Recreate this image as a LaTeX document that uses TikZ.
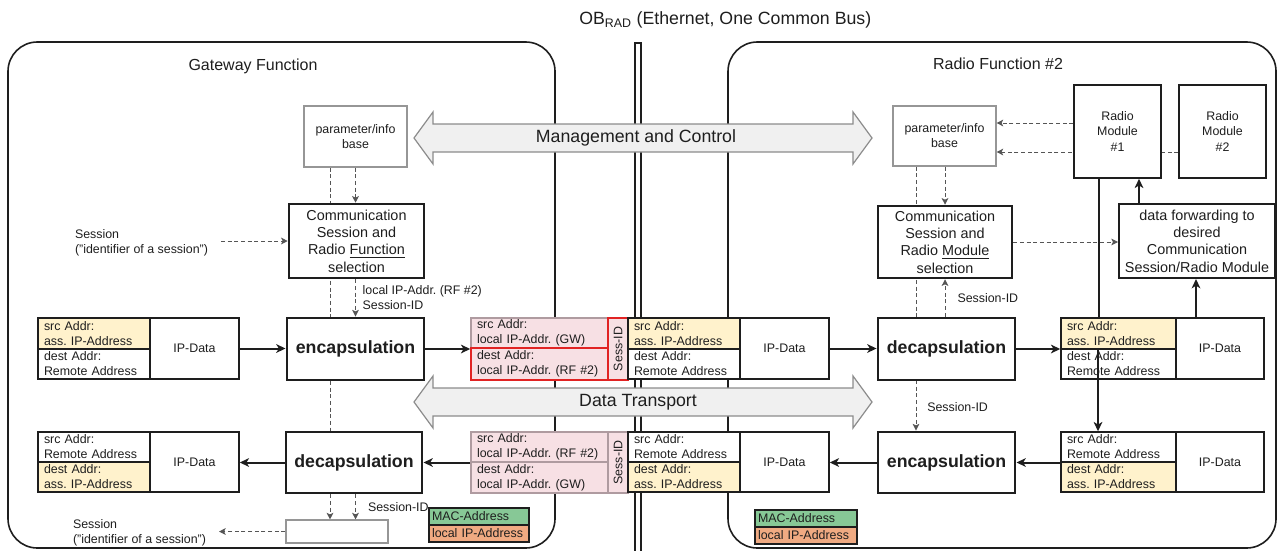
\documentclass[tikz,border=0pt]{standalone}
\usepackage{fontspec}
\usepackage{graphicx}
\setmainfont{Liberation Sans}
\usetikzlibrary{arrows.meta,backgrounds}
\frenchspacing

\definecolor{ink}{RGB}{30,30,30}
\definecolor{addrY}{RGB}{255,242,204}
\definecolor{tunP}{RGB}{247,224,228}
\definecolor{tunEdge}{RGB}{175,155,160}
\definecolor{tunRed}{RGB}{225,35,35}
\definecolor{macG}{RGB}{135,200,150}
\definecolor{ipO}{RGB}{240,170,130}
\definecolor{pipeFill}{RGB}{240,240,240}
\definecolor{pipeEdge}{RGB}{140,140,140}
\definecolor{dashC}{RGB}{85,85,85}
\definecolor{thinC}{RGB}{150,150,150}

\newcommand\fs[2]{\fontsize{#1}{#2}\selectfont}

% box given by its corners (x1,y1) (x2,y2), text centred
\newcommand\boxat[7]{%
  \pgfmathsetmacro\bxw{(#4-#2)*0.75}%
  \pgfmathsetmacro\bxh{(#5-#3)*0.75}%
  \node[#6, minimum width=\bxw pt, minimum height=\bxh pt] (#1) at ({(#2+#4)/2},{(#3+#5)/2}) {#7};}
% box given by its corners, text left aligned with padding [#1]
\newcommand\cellat[8][6]{%
  \pgfmathsetmacro\bxw{(#5-#3)*0.75}%
  \pgfmathsetmacro\bxh{(#6-#4)*0.75}%
  \pgfmathsetmacro\bxt{(#5-#3-2*#1)*0.75}%
  \node[#7, align=left, text width=\bxt pt, minimum width=\bxw pt, minimum height=\bxh pt] (#2) at ({(#3+#5)/2},{(#4+#6)/2}) {#8};}

\tikzset{
  every node/.style={inner sep=0pt, text=ink},
  frame/.style={draw=ink, line width=1.2pt, rounded corners=22pt},
  info/.style={draw=thinC, line width=0.8pt, fill=white, font=\fs{9.3}{11.3}, align=center},
  selbox/.style={draw=ink, line width=1.9pt, fill=white, font=\fs{10.8}{13}, align=center},
  procbox/.style={draw=ink, line width=2.2pt, fill=white, font=\fs{13.3}{16}\bfseries},
  cellbox/.style={draw=ink, line width=1.1pt, fill=white, font=\fs{9.3}{11.3}},
  ycell/.style={cellbox, fill=addrY},
  pcell/.style={draw=tunEdge, line width=1.1pt, fill=tunP, font=\fs{9.3}{11.3}},
  rcell/.style={pcell, draw=tunRed},
  modbox/.style={draw=ink, line width=1.1pt, fill=white, font=\fs{9.3}{11.3}, align=center},
  fwdbox/.style={draw=ink, line width=1.5pt, fill=white, font=\fs{10.8}{13}, align=center},
  legG/.style={draw=ink, line width=1.1pt, fill=macG, font=\fs{9.3}{11.3}},
  legO/.style={legG, fill=ipO},
  lbl/.style={font=\fs{9.3}{11.3}, align=left},
  flow/.style={draw=ink, line width=1.5pt, -{Stealth[length=7pt,width=6.5pt,inset=2pt]}},
  link/.style={draw=ink, line width=1.5pt},
  ctrl/.style={draw=dashC, line width=0.75pt, dash pattern=on 3pt off 2pt, -{Stealth[length=5pt,width=5pt,inset=1.2pt]}},
  pipe/.style={draw=pipeEdge, fill=pipeFill, line width=0.9pt},
}

\begin{document}
\begin{tikzpicture}[x=0.75pt, y=-0.75pt]
\useasboundingbox (0,0) rectangle (1277,550);

% function frames and the common bus
\boxat{gwFrame}{8}{42}{555}{548}{frame}{}
\boxat{rfFrame}{728}{42}{1276}{548}{frame}{}
\boxat{bus}{635}{43}{641}{580}{draw=ink, line width=1.1pt}{}

\node[font=\fs{13.3}{16}, anchor=west] (busTitle) at (579,20) {OB\textsubscript{RAD} (Ethernet, One Common Bus)};
\node[font=\fs{12}{14}] (gwTitle) at (253,66) {Gateway Function};
\node[font=\fs{12}{14}] (rfTitle) at (998,64) {Radio Function \#2};

% bus channels
\draw[pipe] (414,138) -- (433,112) -- (433,124) -- (853,124) -- (853,112) -- (872,138)
  -- (853,164) -- (853,152) -- (433,152) -- (433,164) -- cycle;
\node[font=\fs{13.3}{16}] (mgmt) at (636,138) {Management and Control};
\draw[pipe] (414,402) -- (433,376) -- (433,388) -- (853,388) -- (853,376) -- (872,402)
  -- (853,428) -- (853,416) -- (433,416) -- (433,428) -- cycle;
\node[font=\fs{13.3}{16}] (transp) at (638,402) {Data Transport};

% ---------------- gateway function ----------------
\boxat{gwParam}{304}{106}{407}{167}{info}{parameter/info\\base}
\boxat{gwSel}{289}{204}{424}{278}{selbox}{Communication\\Session and\\Radio \underline{Function}\\selection}
\boxat{gwEnc}{287}{318}{424}{380}{procbox}{encapsulation}
\boxat{gwDec}{286}{432}{422}{493}{procbox}{decapsulation}
\boxat{gwSess}{286}{520}{388}{543}{info}{}

\cellat{gwTopSrc}{38}{318}{150}{349}{ycell}{src Addr:\\ass. IP-Address}
\cellat{gwTopDst}{38}{349}{150}{379}{cellbox}{dest Addr:\\Remote Address}
\boxat{gwTopData}{150}{318}{239}{379}{cellbox}{IP-Data}
\cellat{gwBotSrc}{38}{432}{150}{462}{cellbox}{src Addr:\\Remote Address}
\cellat{gwBotDst}{38}{462}{150}{492}{ycell}{dest Addr:\\ass. IP-Address}
\boxat{gwBotData}{150}{432}{239}{492}{cellbox}{IP-Data}

\node[lbl, anchor=west, outer xsep=9.75pt] (sessIn) at (62,242.5) {Session\\("identifier of a session")};
\node[lbl, anchor=west, outer xsep=9.75pt] (sessOut) at (60,532.5) {Session\\("identifier of a session")};

\cellat[3]{gwMac}{429}{508}{529}{525}{legG}{MAC-Address}
\cellat[3]{gwLip}{429}{525}{529}{542}{legO}{local IP-Address}

% ---------------- tunnel frames on the bus ----------------
\cellat{tTopSrc}{471}{318}{608}{348}{pcell}{src Addr:\\local IP-Addr. (GW)}
\cellat{tTopDst}{471}{348}{608}{380}{rcell}{dest Addr:\\local IP-Addr. (RF \#2)}
\boxat{tTopSess}{608}{318}{628}{380}{rcell}{\rotatebox{90}{Sess-ID}}
\cellat{rTopSrc}{628}{318}{740}{349}{ycell}{src Addr:\\ass. IP-Address}
\cellat{rTopDst}{628}{349}{740}{379}{cellbox}{dest Addr:\\Remote Address}
\boxat{rTopData}{740}{318}{829}{379}{cellbox}{IP-Data}

\cellat{tBotSrc}{471}{432}{608}{462}{pcell}{src Addr:\\local IP-Addr. (RF \#2)}
\cellat{tBotDst}{471}{462}{608}{493}{pcell}{dest Addr:\\local IP-Addr. (GW)}
\boxat{tBotSess}{608}{432}{628}{493}{pcell}{\rotatebox{90}{Sess-ID}}
\cellat{rBotSrc}{628}{432}{740}{462}{cellbox}{src Addr:\\Remote Address}
\cellat{rBotDst}{628}{462}{740}{492}{ycell}{dest Addr:\\ass. IP-Address}
\boxat{rBotData}{740}{432}{829}{492}{cellbox}{IP-Data}

% ---------------- radio function ----------------
\boxat{rfParam}{893}{106}{996}{166}{info}{parameter/info\\base}
\boxat{rfSel}{878}{206}{1012}{278}{selbox}{Communication\\Session and\\Radio \underline{Module}\\selection}
\boxat{rfDec}{878}{318}{1015}{380}{procbox}{decapsulation}
\boxat{rfEnc}{878}{432}{1015}{493}{procbox}{encapsulation}
\boxat{rm1}{1074}{85}{1161}{178}{modbox}{Radio\\Module\\\#1}
\boxat{rm2}{1179}{85}{1266}{178}{modbox}{Radio\\Module\\\#2}
\boxat{fwd}{1119}{204}{1275}{278}{fwdbox}{data forwarding to\\desired\\Communication\\Session/Radio Module}

\cellat{aTopSrc}{1061}{318}{1176}{349}{ycell}{src Addr:\\ass. IP-Address}
\cellat{aTopDst}{1061}{349}{1176}{379}{cellbox}{dest Addr:\\Remote Address}
\boxat{aTopData}{1176}{318}{1264}{379}{cellbox}{IP-Data}
\cellat{aBotSrc}{1061}{432}{1176}{462}{cellbox}{src Addr:\\Remote Address}
\cellat{aBotDst}{1061}{462}{1176}{492}{ycell}{dest Addr:\\ass. IP-Address}
\boxat{aBotData}{1176}{432}{1264}{492}{cellbox}{IP-Data}

\cellat[3]{rfMac}{755}{510}{857}{527}{legG}{MAC-Address}
\cellat[3]{rfLip}{755}{527}{857}{544}{legO}{local IP-Address}

% lanes of the vertical connectors
\coordinate (gwL) at (330,0);
\coordinate (gwR) at (355.5,0);
\coordinate (rfL) at (916,0);
\coordinate (rfR) at (945,0);
\coordinate (upY) at (0,123);
\coordinate (loY) at (0,152);
\coordinate (m1x) at (1099,0);
\coordinate (fwdx) at (1139,0);
\coordinate (a1x) at (1098,0);
\coordinate (a2x) at (1196,0);

% data flow
\draw[flow] (gwTopData.east) -- (gwEnc.west |- gwTopData.east);
\draw[flow] (gwEnc.east) -- (gwEnc.east -| tTopDst.west);
\draw[flow] (tBotSrc.west |- gwDec.east) -- (gwDec.east);
\draw[flow] (gwDec.west) -- (gwDec.west -| gwBotData.east);
\draw[flow] (rTopData.east) -- (rfDec.west |- rTopData.east);
\draw[flow] (rfDec.east) -- (rfDec.east -| aTopSrc.west);
\draw[flow] (aBotSrc.west |- rfEnc.east) -- (rfEnc.east);
\draw[flow] (rfEnc.west) -- (rfEnc.west -| rBotData.east);
\draw[flow] (aTopSrc.south -| a1x) -- (aBotSrc.north -| a1x);
\draw[flow] (aTopData.north -| a2x) -- (fwd.south -| a2x);
\draw[flow] (fwd.north -| fwdx) -- (rm1.south -| fwdx);
\draw[link] (rm1.south -| m1x) -- (aTopSrc.north -| m1x);

% control flow
\draw[ctrl] (gwParam.south -| gwR) -- (gwSel.north -| gwR);
\draw[ctrl] (gwSel.south -| gwR) -- node[lbl, anchor=west, xshift=5pt] (gwEncLbl) {local IP-Addr. (RF \#2)\\Session-ID} (gwEnc.north -| gwR);
\draw[ctrl] (gwDec.south -| gwR) -- node[lbl, anchor=west, xshift=9pt] (gwSessLbl) {Session-ID} (gwSess.north -| gwR);
\draw[ctrl] (sessIn.east |- gwSel.west) -- (gwSel.west);
\draw[ctrl] (gwSess.west) -- (sessOut.east |- gwSess.west);

\draw[ctrl] (rfParam.south -| rfR) -- (rfSel.north -| rfR);
\draw[ctrl] (rfDec.north -| rfR) -- node[lbl, anchor=west, xshift=9pt] (rfSelLbl) {Session-ID} (rfSel.south -| rfR);
\node[lbl, anchor=west] (rfEncLbl) at (927,407) {Session-ID};
\draw[ctrl] (rfSel.east) -- (rfSel.east -| fwd.west);
\draw[ctrl] (rm1.west |- upY) -- (rfParam.east |- upY);

\begin{pgfonlayer}{background}
  \draw[ctrl] (gwParam.south -| gwL) -- (gwSess.north -| gwL);
  \draw[ctrl] (rfParam.south -| rfL) -- (rfEnc.north -| rfL);
  \draw[ctrl] (rm2.west |- loY) -- (rfParam.east |- loY);
\end{pgfonlayer}
\end{tikzpicture}
\end{document}
